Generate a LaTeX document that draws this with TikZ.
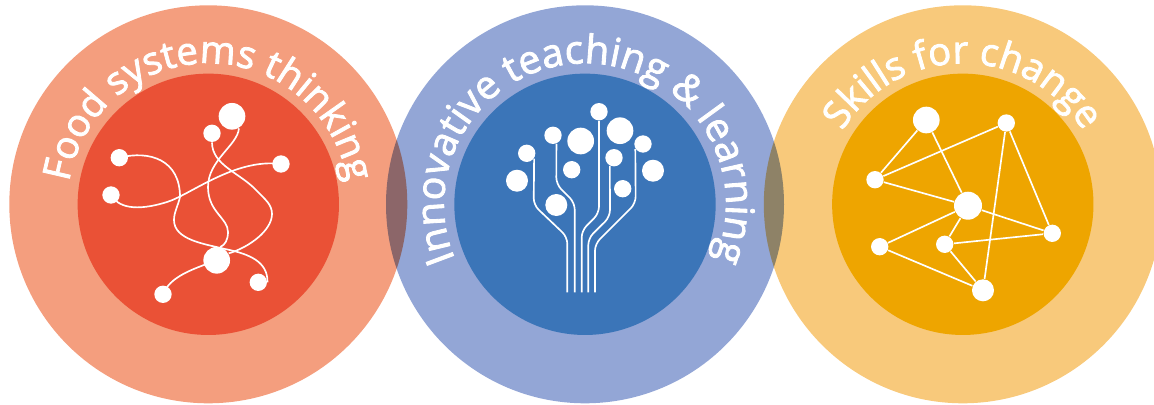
\documentclass[tikz,border=0pt]{standalone}
\usepackage{fontspec}
\usetikzlibrary{decorations.text}
\newfontfamily\ringfont[FakeBold=2.2]{Open Sans}
\definecolor{foodouter}{HTML}{F49E7E}
\definecolor{foodinner}{HTML}{EA5136}
\definecolor{teachouter}{HTML}{93A6D6}
\definecolor{teachinner}{HTML}{3B75B8}
\definecolor{skillouter}{HTML}{F8C97B}
\definecolor{skillinner}{HTML}{EEA500}
\tikzset{
  every picture/.style={line width=0.75pt},
  outerdisc/.style={circle,inner sep=0pt,minimum size=298.5pt,fill=#1},
  innerdisc/.style={circle,inner sep=0pt,minimum size=196pt,fill=#1},
  dotsmall/.style={circle,inner sep=0pt,minimum size=13pt,fill=white},
  dotmid/.style={circle,inner sep=0pt,minimum size=16.5pt,fill=white},
  dotlarge/.style={circle,inner sep=0pt,minimum size=20pt,fill=white},
  linkline/.style={draw=white,line width=1.25pt},
  ringtext/.style 2 args={decorate,decoration={text along path,text align=center,text color=white,
    text={|\ringfont\fontsize{#1}{#1}\selectfont|#2}}},
}

\begin{document}
\begin{tikzpicture}[x=0.75pt,y=0.75pt,yscale=-1,xscale=1]
  \useasboundingbox (0,0) rectangle (1154,404);

  % outer discs
  \begin{scope}[blend mode=multiply]
    \node[outerdisc=foodouter] (foodring) at (208.3,204.3) {};
    \node[outerdisc=teachouter] (teachring) at (585,204.3) {};
    \node[outerdisc=skillouter] (skillring) at (962.8,204.3) {};
  \end{scope}

  % inner discs
  \node[innerdisc=foodinner] (foodcore) at (208.3,204.3) {};
  \node[innerdisc=teachinner] (teachcore) at (585,204.3) {};
  \node[innerdisc=skillinner] (skillcore) at (962.8,204.3) {};

  % ring titles
  \path[ringtext={28.7}{Food systems thinking}] (208.3,204.3) ++(-225:141) arc [start angle=-225,end angle=45,radius=141];
  \path[ringtext={29.5}{Innovative teaching {\&} learning}] (585,204.3) ++(-225:141) arc [start angle=-225,end angle=45,radius=141];
  \path[ringtext={28.7}{Skills for change}] (962.8,204.3) ++(-225:141) arc [start angle=-225,end angle=45,radius=141];

  % food systems dots
  \node[dotlarge] (fa) at (232,116.3) {};
  \node[dotsmall] (fb) at (212,133.3) {};
  \node[dotsmall] (fc) at (119.3,157.7) {};
  \node[dotsmall] (fd) at (281,164) {};
  \node[dotsmall] (fe) at (111,195) {};
  \node[dotlarge] (ff) at (216.7,260.3) {};
  \node[dotsmall] (fg) at (258.3,282.3) {};
  \node[dotsmall] (fh) at (163,294.3) {};

  % food systems curves
  \draw[linkline] (fc.center) .. controls (150,150) and (180,160) .. (180,197) .. controls (178,206) and (174,212) .. (174,220) .. controls (174,240) and (205,244) .. (225,249) .. controls (250,254) and (268,262) .. (fg.east);
  \draw[linkline] (fe.center) .. controls (118,207) and (135,212) .. (167,202) .. controls (190,195) and (235,158) .. (fd.center);
  \draw[linkline] (fa.-60) .. controls (238,145) and (208,160) .. (208,187) .. controls (208,212) and (228,218) .. (228,232) .. controls (228,240) and (225,245) .. (ff.75);
  \draw[linkline] (fb.south) .. controls (212,165) and (240,173) .. (256,190) .. controls (266,200) and (272,205) .. (272,214) .. controls (272,230) and (250,247) .. (ff.30);
  \draw[linkline] (ff.center) .. controls (190,270) and (170,277) .. (fh.center);

  % teaching dots
  \node[dotmid] (ta) at (517,180.7) {};
  \node[dotsmall] (tb) at (526.7,153.3) {};
  \node[dotsmall] (tc) at (553,135.3) {};
  \node[dotlarge] (td) at (580.7,141) {};
  \node[dotsmall] (te) at (571.7,169.7) {};
  \node[dotmid] (tf) at (556.3,205) {};
  \node[dotsmall] (tg) at (599,111.7) {};
  \node[dotlarge] (th) at (620,130.7) {};
  \node[dotsmall] (ti) at (614,157.7) {};
  \node[dotsmall] (tj) at (643,144) {};
  \node[dotmid] (tk) at (653,170.7) {};
  \node[dotsmall] (tl) at (622.7,188.7) {};

  % teaching branches
  \coordinate (rootb) at (567.3,292.3);
  \coordinate (rootc) at (574.7,292.3);
  \coordinate (rootg) at (581.7,292.3);
  \coordinate (rooti) at (588.3,292.3);
  \coordinate (rootj) at (595,292.3);
  \draw[linkline,rounded corners=5pt] (tb.-36) -- (533.7,205) -- (567.3,237) -- (rootb);
  \draw[linkline,rounded corners=5pt] (tc.-68) -- (556.3,184.3) -- (574.7,202.7) -- (rootc);
  \draw[linkline,rounded corners=5pt] (tg.south) -- (599,213.3) -- (581.7,230.7) -- (rootg);
  \draw[linkline,rounded corners=5pt] (ti.-117) -- (610,216.7) -- (588.3,238.3) -- (rooti);
  \draw[linkline,rounded corners=5pt] (tj.-147) -- (635.7,203.3) -- (595,244) -- (rootj);

  % skills dots
  \node[dotlarge] (sa) at (926.3,120) {};
  \node[dotsmall] (sb) at (1006.3,123) {};
  \node[dotsmall] (sc) at (875,179.7) {};
  \node[dotlarge,minimum size=21pt] (sd) at (968,205.7) {};
  \node[dotsmall] (se) at (1052.3,233.3) {};
  \node[dotsmall] (sf) at (879.7,246.7) {};
  \node[dotsmall] (sg) at (944.7,244.3) {};
  \node[dotmid] (sh) at (983,290.3) {};

  % skills links
  \draw[linkline] (sa) -- (sc);
  \draw[linkline] (sa) -- (sd);
  \draw[linkline] (sc) -- (sb);
  \draw[linkline] (sc) -- (sd);
  \draw[linkline] (sb) -- (se);
  \draw[linkline] (sb) -- (sh);
  \draw[linkline] (sd) -- (se);
  \draw[linkline] (sd) -- (sf);
  \draw[linkline] (sd) -- (sg);
  \draw[linkline] (se) -- (sg);
  \draw[linkline] (sf) -- (sh);
  \draw[linkline] (sg) -- (sh);
\end{tikzpicture}
\end{document}
